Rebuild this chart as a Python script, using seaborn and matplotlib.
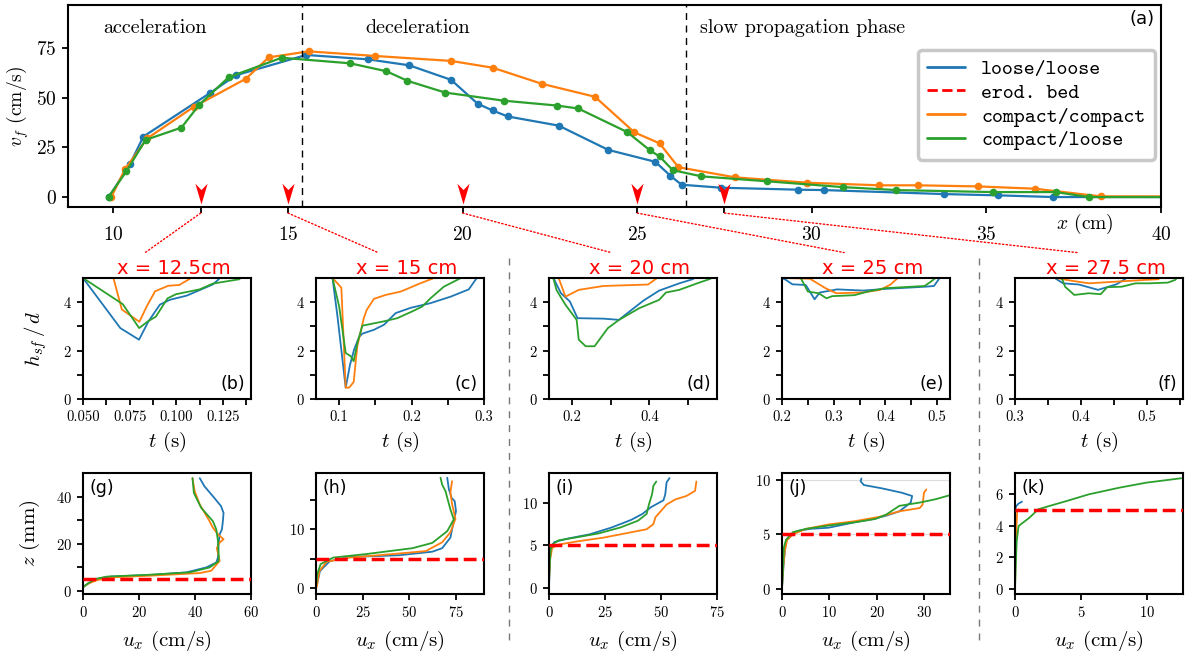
import numpy as np
import pandas as pd
import matplotlib
matplotlib.use("Agg")
import matplotlib.pyplot as plt
import seaborn as sns
from matplotlib.patches import ConnectionPatch
from matplotlib.lines import Line2D
from matplotlib.path import Path
from matplotlib.ticker import FixedLocator, FormatStrFormatter

# ---------------- (a) front velocity v_f(x) ----------------
x_ll = [9.87, 10.47, 10.86, 12.76, 13.51, 15.52, 17.29, 18.47, 19.67, 20.43, 20.86, 21.29,
        22.75, 24.17, 25.52, 25.95, 26.27, 27.39, 29.61, 30.36, 33.78, 35.34, 36.92, 40.6]
v_ll = [0.0, 16.4, 30.4, 52.2, 61.2, 71.4, 69.2, 66.2, 58.9, 46.9, 43.5, 40.5,
        35.9, 23.7, 17.7, 10.7, 6.2, 4.7, 3.7, 3.5, 1.5, 0.85, 0.0, 0.0]
x_cc = [9.94, 10.33, 10.97, 12.31, 13.79, 14.45, 15.59, 17.49, 19.67, 20.86, 22.27, 23.79,
        24.92, 25.64, 26.18, 27.8, 29.87, 31.93, 33.03, 34.75, 36.38, 38.27, 40.6]
v_cc = [0.0, 13.9, 29.5, 45.4, 59.4, 70.2, 73.2, 70.9, 68.4, 65.0, 56.9, 50.4,
        32.5, 27.0, 15.0, 9.9, 7.2, 5.9, 5.9, 5.35, 4.2, 0.35, 0.3]
x_cl = [9.86, 10.37, 10.92, 11.95, 12.45, 13.30, 14.82, 16.78, 17.82, 18.42, 19.50, 21.19,
        22.69, 23.31, 24.71, 25.37, 25.64, 26.02, 26.84, 28.73, 30.89, 32.42, 35.19, 36.98,
        37.94, 40.6]
v_cl = [0.0, 12.9, 28.7, 34.9, 46.2, 60.2, 70.0, 67.2, 63.2, 58.4, 52.5, 48.4,
        46.0, 44.5, 32.7, 23.4, 20.4, 13.5, 10.4, 7.9, 5.0, 3.5, 2.5, 2.5,
        0.0, 0.0]

phase_bounds = [15.4, 26.4]
phase_names = ["acceleration", "deceleration", "slow propagation phase"]
phase_text_x = [9.7, 18.7, 26.8]
probe_x = [12.5, 15, 20, 25, 27.5]
probe_titles = ["x = 12.5cm", "x = 15 cm", "x = 20 cm", "x = 25 cm", "x = 27.5 cm"]
series_names = ["loose/loose", "compact/compact", "compact/loose"]
bed_label = "erod. bed"
bed_z = 5.0

# ---------------- (b)-(f) surface height h_sf/d vs t ----------------
t_b_ll = [0.050, 0.0700, 0.080, 0.085, 0.0912, 0.0966, 0.1055, 0.1125, 0.1197, 0.123]
h_b_ll = [5.0, 2.93, 2.45, 3.2, 3.9, 4.1, 4.27, 4.5, 4.74, 4.97]
t_b_cc = [0.0663, 0.0708, 0.0802, 0.0841, 0.0886, 0.0957, 0.1015, 0.108]
h_b_cc = [5.0, 3.7, 3.19, 3.82, 4.45, 4.68, 4.71, 5.0]
t_b_cl = [0.050, 0.0713, 0.0801, 0.0846, 0.089, 0.0953, 0.0998, 0.1125, 0.1196, 0.1339]
h_b_cl = [5.0, 3.92, 2.93, 3.2, 3.4, 4.16, 4.33, 4.53, 4.77, 4.95]

t_c_ll = [0.0908, 0.0977, 0.109, 0.115, 0.1206, 0.1275, 0.132, 0.148, 0.162, 0.178, 0.199,
          0.226, 0.254, 0.279, 0.29]
h_c_ll = [5.0, 3.4, 0.47, 1.42, 2.04, 2.56, 2.7, 2.86, 3.07, 3.55, 3.77, 3.96, 4.23, 4.53, 5.0]
t_c_cc = [0.0908, 0.103, 0.109, 0.1138, 0.12, 0.125, 0.134, 0.138, 0.148, 0.1642, 0.185,
          0.212, 0.231]
h_c_cc = [5.0, 4.6, 0.47, 0.47, 0.7, 2.18, 3.34, 3.68, 4.14, 4.3, 4.44, 4.78, 5.0]
t_c_cl = [0.0908, 0.1, 0.109, 0.116, 0.12, 0.1252, 0.132, 0.1619, 0.1803, 0.2009, 0.2147,
          0.2261, 0.2445, 0.2674]
h_c_cl = [5.0, 3.82, 1.9, 1.77, 1.56, 2.32, 3.03, 3.21, 3.34, 3.62, 3.82, 4.16, 4.64, 4.99]

t_d_ll = [0.1514, 0.171, 0.194, 0.2139, 0.281, 0.321, 0.356, 0.385, 0.4254, 0.4775, 0.512, 0.517]
h_d_ll = [5.0, 4.37, 4.03, 3.34, 3.32, 3.27, 3.71, 4.07, 4.48, 4.78, 4.95, 5.0]
t_d_cc = [0.165, 0.1827, 0.217, 0.281, 0.3965, 0.42]
h_d_cc = [5.0, 4.23, 4.51, 4.67, 4.73, 5.0]
t_d_cl = [0.151, 0.1595, 0.1827, 0.2116, 0.217, 0.235, 0.258, 0.2925, 0.3214, 0.3734,
          0.4254, 0.4428, 0.4775, 0.5237, 0.5584]
h_d_cl = [5.0, 4.5, 3.89, 3.27, 2.45, 2.18, 2.18, 2.93, 3.27, 3.75, 4.1, 4.4, 4.51, 4.78, 4.97]

t_e_ll = [0.2, 0.2076, 0.22, 0.246, 0.263, 0.273, 0.3066, 0.357, 0.40, 0.4766, 0.494, 0.505]
h_e_ll = [5.0, 4.92, 4.74, 4.71, 4.12, 4.40, 4.53, 4.48, 4.55, 4.64, 4.67, 5.0]
t_e_cc = [0.2, 0.254, 0.284, 0.305, 0.356, 0.39, 0.41, 0.424]
h_e_cc = [5.0, 4.97, 4.58, 4.37, 4.40, 4.51, 4.73, 5.0]
t_e_cl = [0.237, 0.25, 0.271, 0.286, 0.297, 0.34, 0.366, 0.4, 0.476, 0.488, 0.497]
h_e_cl = [4.97, 4.44, 4.37, 4.16, 4.25, 4.29, 4.44, 4.58, 4.67, 4.85, 5.0]

t_f_ll = [0.362, 0.373, 0.397, 0.426, 0.454, 0.468]
h_f_ll = [4.97, 4.78, 4.73, 4.51, 4.74, 4.97]
t_f_cc = [0.362, 0.383, 0.412, 0.454, 0.497, 0.518]
h_f_cc = [5.0, 4.9, 4.78, 4.85, 4.92, 4.95]
t_f_cl = [0.371, 0.376, 0.39, 0.412, 0.43, 0.44, 0.462, 0.483, 0.504, 0.532, 0.543, 0.546]
h_f_cl = [5.0, 4.64, 4.30, 4.37, 4.33, 4.62, 4.64, 4.78, 4.78, 4.81, 4.92, 5.0]

# ---------------- (g)-(k) velocity profiles z(u_x) ----------------
u_g_ll = [41.7, 43.4, 46.4, 49.3, 50.2, 49.9, 49.6, 48.8, 48.4, 48.2, 47.6, 44.0, 36.9, 23.9,
          9.7, 5.0, 2.0, 0.2]
z_g_ll = [48.0, 44.5, 40.3, 36.1, 33.2, 29.0, 26.2, 24.1, 19.9, 14.2, 12.1, 10.0, 7.9, 6.8,
          6.1, 5.1, 3.2, 1.8]
u_g_cc = [39.1, 39.9, 41.7, 45.2, 46.4, 48.2, 50.2, 48.8, 47.8, 48.8, 47.3, 45.8, 41.7, 23.9,
          10.9, 5.0, 2.0, 0.2]
z_g_cc = [48.0, 42.4, 36.8, 29.7, 26.9, 24.1, 22.0, 20.6, 18.2, 12.8, 10.7, 8.6, 7.6, 6.5,
          5.8, 4.6, 3.2, 1.8]
u_g_cl = [39.1, 39.6, 42.2, 46.4, 47.6, 48.2, 48.5, 48.3, 45.2, 38.1, 23.9, 8.5, 4.4, 1.7, 0.2]
z_g_cl = [48.0, 41.7, 35.4, 29.7, 26.2, 21.3, 14.2, 12.5, 10.0, 7.9, 6.9, 6.1, 5.1, 3.2, 1.8]

u_h_ll = [70.3, 71.2, 72.6, 74.3, 75.0, 73.8, 72.0, 67.6, 62.3, 44.6, 18.1, 7.4, 2.1, 0.4]
z_h_ll = [18.8, 16.8, 15.4, 14.8, 13.1, 11.4, 8.6, 6.8, 6.2, 5.6, 5.3, 4.6, 2.9, 0.4]
u_h_cc = [72.9, 72.0, 72.9, 74.7, 72.0, 67.6, 58.8, 41.1, 18.1, 5.7, 1.8, 0.4]
z_h_cc = [18.2, 16.3, 14.3, 11.8, 9.5, 7.8, 6.3, 5.8, 5.2, 4.5, 2.9, 0.2]
u_h_cl = [66.7, 67.6, 69.4, 70.3, 72.0, 73.8, 70.3, 62.3, 51.7, 26.9, 9.2, 2.5, 0.7, 0.0]
z_h_cl = [18.8, 17.6, 16.5, 15.4, 13.4, 11.7, 9.7, 7.7, 6.8, 5.8, 5.2, 4.1, 2.4, 0.2]

u_i_ll = [53.8, 52.5, 51.9, 51.1, 45.6, 41.7, 36.7, 27.9, 18.1, 8.3, 2.4, 0.8, 0.4, 0.0]
z_i_ll = [12.9, 12.4, 11.0, 10.3, 9.5, 8.7, 8.0, 7.1, 6.3, 5.8, 5.4, 4.8, 3.2, 0.1]
u_i_cc = [65.8, 65.2, 61.3, 56.4, 52.5, 47.5, 46.6, 43.6, 35.8, 24.0, 13.2, 4.3, 1.4, 0.4, 0.0]
z_i_cc = [12.5, 11.4, 10.8, 10.4, 9.8, 8.3, 7.5, 6.9, 6.5, 5.9, 5.5, 5.1, 4.7, 3.2, 0.9]
u_i_cl = [47.9, 46.6, 46.0, 44.6, 43.6, 39.7, 31.8, 22.0, 11.2, 4.3, 2.0, 0.8, 0.4, 0.0]
z_i_cl = [12.5, 12.0, 11.0, 9.8, 8.7, 7.9, 7.1, 6.4, 5.9, 5.6, 5.2, 4.6, 3.2, 0.9]

u_j_ll = [16.8, 16.6, 17.3, 21.1, 25.3, 27.5, 27.2, 24.8, 22.0, 19.2, 15.4, 9.8, 6.0, 3.2,
          1.8, 0.85, 0.4, 0.0]
z_j_ll = [10.1, 9.85, 9.5, 9.2, 8.8, 8.5, 7.9, 7.1, 6.7, 6.4, 6.1, 5.6, 5.5, 5.3, 4.8, 4.4,
          2.6, 0.15]
u_j_cc = [30.5, 30.0, 29.7, 29.1, 24.8, 20.6, 15.4, 9.8, 5.1, 2.3, 1.1, 0.6, 0.2, 0.0]
z_j_cc = [9.1, 8.8, 7.7, 7.4, 7.1, 6.6, 6.2, 5.9, 5.5, 5.0, 4.5, 3.5, 1.7, 0.15]
u_j_cl = [35.7, 32.4, 29.1, 24.8, 22.0, 19.7, 15.4, 9.8, 5.1, 2.3, 0.85, 0.4, 0.2, 0.0]
z_j_cl = [8.6, 8.2, 7.9, 7.6, 6.8, 6.4, 6.1, 5.8, 5.5, 5.2, 4.5, 3.8, 1.7, 0.15]

u_k_ll = [0.0, 0.1, 0.27, 0.53]
z_k_ll = [4.96, 5.23, 5.38, 5.5]
u_k_cc = [0.0, 0.03, 0.1, 0.17, 0.27]
z_k_cc = [0.0, 1.78, 3.87, 4.92, 5.02]
u_k_cl = [0.0, 0.07, 0.13, 0.27, 0.6, 1.1, 1.76, 2.6, 3.9, 5.58, 7.9, 9.9, 12.56]
z_k_cl = [0.0, 1.78, 3.03, 3.97, 4.18, 4.5, 5.02, 5.23, 5.54, 5.96, 6.38, 6.69, 6.97]

# ---------------- style ----------------
sns.set_theme(style="ticks")
plt.rcParams.update({
    "font.family": ["cmr10", "DejaVu Sans"],
    "mathtext.fontset": "cm",
    "axes.formatter.use_mathtext": True,
    "axes.edgecolor": "black",
    "axes.linewidth": 1.5,
    "xtick.color": "black",
    "ytick.color": "black",
    "xtick.major.width": 1.3,
    "ytick.major.width": 1.3,
    "xtick.minor.width": 1.3,
    "ytick.minor.width": 1.3,
    "xtick.major.size": 4.5,
    "ytick.major.size": 4.5,
    "xtick.minor.size": 4.5,
    "ytick.minor.size": 4.5,
    "text.color": "black",
    "axes.labelcolor": "black",
})

C_LL, C_CC, C_CL = "#1f77b4", "#ff7f0e", "#2ca02c"
colors = [C_LL, C_CC, C_CL]

W, H = 1194, 657
fig = plt.figure(figsize=(W / 100, H / 100), dpi=100)


def px_axes(l, t, r, b):
    return fig.add_axes([l / W, 1 - b / H, (r - l) / W, (b - t) / H])


def draw(ax, x, y, color, lw=1.3, **kw):
    df = pd.DataFrame({"x": x, "y": y})
    sns.lineplot(data=df, x="x", y="y", ax=ax, color=color, sort=False,
                 estimator=None, errorbar=None, lw=lw, **kw)


# ---------------- panel (a) ----------------
ax = px_axes(68, 5, 1161, 207)
for xs, vs, c in zip([x_ll, x_cc, x_cl], [v_ll, v_cc, v_cl], colors):
    draw(ax, xs, vs, c, lw=1.6, marker="o", markersize=5.5, markeredgewidth=0)
ax.set_xlim(8.7, 40)
ax.set_ylim(-5, 96.5)
for b in phase_bounds:
    ax.axvline(b, color="black", ls=(0, (5, 4)), lw=1.0)
for name, tx in zip(phase_names, phase_text_x):
    ax.text(tx, 85, name, fontsize=14.5, ha="center" if name == "deceleration" else "left",
            va="center")
ax.text(0.994, 0.975, "(a)", transform=ax.transAxes, ha="right", va="top",
        fontsize=13, family="DejaVu Sans")
ax.set_xticks([10, 15, 20, 25, 30, 35, 40])
ax.xaxis.set_minor_locator(FixedLocator([12.5, 27.5]))
ax.set_yticks([0, 25, 50, 75])
ax.tick_params(axis="x", which="both", pad=9, labelsize=14)
ax.tick_params(axis="y", labelsize=14)
ax.set_ylabel("$v_f$ (cm/s)", fontsize=14)
ax.set_xlabel("$x$ (cm)", fontsize=14)
ax.xaxis.set_label_coords(0.93, -0.025)

# red arrow markers at probe positions
arrow = Path([(0, 0), (-0.62, 2.1), (0, 1.45), (0.62, 2.1), (0, 0)],
             [Path.MOVETO, Path.LINETO, Path.LINETO, Path.LINETO, Path.CLOSEPOLY])
ax.plot(probe_x, [0.016] * len(probe_x), transform=ax.get_xaxis_transform(),
        ls="none", marker=arrow, markersize=30, color="red", markeredgewidth=0,
        clip_on=False, zorder=5)

handles = [Line2D([], [], color=C_LL, lw=2),
           Line2D([], [], color="red", lw=2, ls="--"),
           Line2D([], [], color=C_CC, lw=2),
           Line2D([], [], color=C_CL, lw=2)]
labels = [series_names[0], bed_label, series_names[1], series_names[2]]
leg = ax.legend(handles, labels, loc="upper right", bbox_to_anchor=(0.9945, 0.777),
                borderaxespad=0.0,
                prop={"family": "cmtt10", "size": 15}, frameon=True, fancybox=True,
                framealpha=1, edgecolor="#c8c8c8", handlelength=1.8, labelspacing=0.2,
                borderpad=0.45, handletextpad=0.8)
leg.get_frame().set_linewidth(2.5)

# ---------------- rows 2 and 3 ----------------
col_left = [83, 316, 549, 782, 1015]
col_w = 168

h_data = [
    [(t_b_ll, h_b_ll), (t_b_cc, h_b_cc), (t_b_cl, h_b_cl)],
    [(t_c_ll, h_c_ll), (t_c_cc, h_c_cc), (t_c_cl, h_c_cl)],
    [(t_d_ll, h_d_ll), (t_d_cc, h_d_cc), (t_d_cl, h_d_cl)],
    [(t_e_ll, h_e_ll), (t_e_cc, h_e_cc), (t_e_cl, h_e_cl)],
    [(t_f_ll, h_f_ll), (t_f_cc, h_f_cc), (t_f_cl, h_f_cl)],
]
h_xlim = [(0.05, 0.14), (0.068, 0.3), (0.14, 0.575), (0.2, 0.525), (0.3, 0.555)]
h_xmaj = [[0.05, 0.075, 0.1, 0.125], [0.1, 0.2, 0.3], [0.2, 0.4], [0.2, 0.3, 0.4, 0.5],
          [0.3, 0.4, 0.5]]
h_xmin = [[0.0625, 0.0875, 0.1125, 0.1375], [0.15, 0.25], [0.3, 0.5], [0.25, 0.35, 0.45],
          [0.35, 0.45, 0.55]]
h_fmt = ["%.3f", "%.1f", "%.1f", "%.1f", "%.1f"]
h_tags = ["(b)", "(c)", "(d)", "(e)", "(f)"]

u_data = [
    [(u_g_ll, z_g_ll), (u_g_cc, z_g_cc), (u_g_cl, z_g_cl)],
    [(u_h_ll, z_h_ll), (u_h_cc, z_h_cc), (u_h_cl, z_h_cl)],
    [(u_i_ll, z_i_ll), (u_i_cc, z_i_cc), (u_i_cl, z_i_cl)],
    [(u_j_ll, z_j_ll), (u_j_cc, z_j_cc), (u_j_cl, z_j_cl)],
    [(u_k_ll, z_k_ll), (u_k_cc, z_k_cc), (u_k_cl, z_k_cl)],
]
u_xlim = [(0, 60), (0, 90), (0, 75), (0, 35.5), (0, 12.7)]
u_ylim = [(-1.3, 50.2), (-1.0, 19.6), (-0.7, 13.5), (-0.45, 10.6), (-0.3, 7.3)]
u_xmaj = [[0, 20, 40, 60], [0, 25, 50, 75], [0, 25, 50, 75], [0, 10, 20, 30], [0, 5, 10]]
u_ymaj = [[0, 20, 40], [0, 10], [0, 5, 10], [0, 5, 10], [0, 2, 4, 6]]
u_ymin = [[10, 30], [5, 15], [], [], []]
u_tags = ["(g)", "(h)", "(i)", "(j)", "(k)"]

for i in range(5):
    l = col_left[i]
    # ---- h_sf/d panels ----
    axh = px_axes(l, 278, l + col_w, 399)
    for (tt, hh), c in zip(h_data[i], colors):
        draw(axh, tt, hh, c)
    axh.set_xlim(*h_xlim[i])
    axh.set_ylim(0, 5)
    axh.set_xticks(h_xmaj[i])
    axh.xaxis.set_minor_locator(FixedLocator(h_xmin[i]))
    axh.xaxis.set_major_formatter(FormatStrFormatter(h_fmt[i]))
    axh.set_yticks([0, 2, 4])
    axh.yaxis.set_minor_locator(FixedLocator([1, 3]))
    axh.tick_params(labelsize=10.5)
    axh.set_xlabel("$t$ (s)", fontsize=15, labelpad=4)
    axh.set_ylabel("$h_{sf}\\,/\\,d$" if i == 0 else "", fontsize=15, labelpad=10)
    axh.text(0.965, 0.05, h_tags[i], transform=axh.transAxes, ha="right", va="bottom",
             fontsize=12.5, family="DejaVu Sans")
    axh.set_title(probe_titles[i], color="red", fontsize=14, family="DejaVu Sans",
                  pad=3, x=0.54)
    con = ConnectionPatch(xyA=(probe_x[i], -0.03), coordsA=ax.get_xaxis_transform(),
                          xyB=(0.37, 1.21), coordsB=axh.transAxes,
                          color="red", ls=":", lw=1.0)
    fig.add_artist(con)

    # ---- velocity profile panels ----
    axu = px_axes(l, 473, l + col_w, 594)
    if i == 3:
        axu.axhline(10, color="#dddddd", lw=0.8, zorder=0)
        axu.axhline(5, color="#dddddd", lw=0.8, zorder=0)
    for (uu, zz), c in zip(u_data[i], colors):
        draw(axu, uu, zz, c)
    axu.axhline(bed_z, color="red", ls="--", lw=2.5, zorder=3)
    axu.set_xlim(*u_xlim[i])
    axu.set_ylim(*u_ylim[i])
    axu.set_xticks(u_xmaj[i])
    axu.set_yticks(u_ymaj[i])
    axu.yaxis.set_minor_locator(FixedLocator(u_ymin[i]))
    axu.tick_params(labelsize=10.5)
    axu.set_xlabel("$u_x$ (cm/s)", fontsize=15, labelpad=6)
    axu.set_ylabel("$z$ (mm)" if i == 0 else "", fontsize=15, labelpad=10)
    axu.text(0.04, 0.95, u_tags[i], transform=axu.transAxes, ha="left", va="top",
             fontsize=12.5, family="DejaVu Sans")

# gray dashed separators between column groups
for xs in [509, 979]:
    fig.add_artist(Line2D([xs / W, xs / W], [1 - 258 / H, 1 - 640 / H],
                          transform=fig.transFigure, color="#777777", lw=1.0,
                          ls=(0, (5, 5))))

fig.savefig("out.png", dpi=100)
